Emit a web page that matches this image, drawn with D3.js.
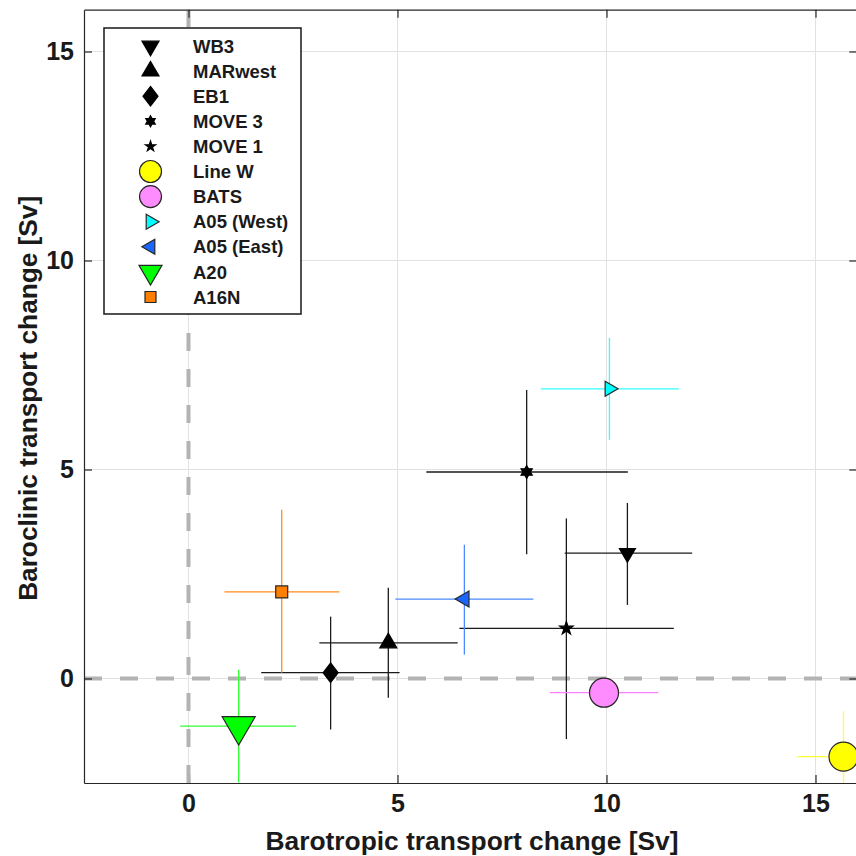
<!DOCTYPE html>
<html>
<head>
<meta charset="utf-8">
<script src="https://cdn.jsdelivr.net/npm/d3@7"></script>
<style>
  html, body { margin: 0; padding: 0; background: #fff; }
  svg { display: block; }
  text { font-family: "Liberation Sans", Arial, Helvetica, sans-serif; font-weight: bold; fill: #1a1a1a; }
</style>
</head>
<body>
<script>
// ---------------- data ----------------
const names = ["WB3", "MARwest", "EB1", "MOVE 3", "MOVE 1", "Line W", "BATS", "A05 (West)", "A05 (East)", "A20", "A16N"];
const xVal  = [10.5, 4.78, 3.40, 8.09, 9.04, 15.67, 9.94, 10.07, 6.60, 1.20, 2.23];
const yVal  = [3.00, 0.85, 0.14, 4.94, 1.20, -1.87, -0.34, 6.93, 1.90, -1.14, 2.07];
const xLo   = [9.00, 3.13, 1.74, 5.69, 6.48, 14.56, 8.64, 8.43, 4.95, -0.20, 0.86];
const xHi   = [12.05, 6.44, 5.05, 10.51, 11.61, 16.78, 11.24, 11.73, 8.25, 2.57, 3.61];
const yLo   = [1.76, -0.46, -1.22, 2.97, -1.45, -2.96, -0.34, 5.71, 0.57, -2.49, 0.14];
const yHi   = [4.20, 2.17, 1.48, 6.90, 3.83, -0.78, -0.34, 8.15, 3.20, 0.21, 4.04];
const xTicks = [0, 5, 10, 15];
const yTicks = [0, 5, 10, 15];
const xLabel = "Barotropic transport change [Sv]";
const yLabel = "Baroclinic transport change [Sv]";

// ---------------- styles ----------------
const shapes    = ["triDown", "triUp", "diamond", "hexagram", "pentagram", "circle", "circle", "triRight", "triLeft", "triDown", "square"];
const fills     = ["#000", "#000", "#000", "#000", "#000", "#ffff00", "#ff8cff", "#00ffff", "#1a66ff", "#00ff00", "#ff8000"];
const errColors = ["#1a1a1a", "#1a1a1a", "#1a1a1a", "#1a1a1a", "#1a1a1a", "#ffff33", "#ff80ff", "#33ffff", "#4d88ff", "#33ff33", "#ff8c1a"];
const plotSize  = [16, 17, 15, 13, 13, 29, 29, 15, 16, 33, 12];
const legSize   = [17, 17, 15, 11, 10, 22, 22, 15, 15, 23, 11];

const W = 856, H = 856;
const svg = d3.select("body").append("svg").attr("width", W).attr("height", H);

const x = d3.scaleLinear().domain([-2.5, 16]).range([84, 857.3]);
const y = d3.scaleLinear().domain([-2.5, 16]).range([783, 9.7]);
const [x0, x1] = x.range();
const [y0, y1] = y.range();

function markerPath(shape, s) {
  const p = d3.path();
  if (shape === "triDown" || shape === "triUp" || shape === "triLeft" || shape === "triRight") {
    const h = s * 0.86;
    let pts;
    if (shape === "triDown") pts = [[-s/2, -h/3], [s/2, -h/3], [0, 2*h/3]];
    if (shape === "triUp") pts = [[-s/2, h/3], [s/2, h/3], [0, -2*h/3]];
    if (shape === "triRight") pts = [[-h/3, -s/2], [-h/3, s/2], [2*h/3, 0]];
    if (shape === "triLeft") pts = [[h/3, -s/2], [h/3, s/2], [-2*h/3, 0]];
    p.moveTo(...pts[0]); p.lineTo(...pts[1]); p.lineTo(...pts[2]); p.closePath();
  } else if (shape === "diamond") {
    const hh = s * 0.65;
    p.moveTo(0, -hh); p.lineTo(s/2, 0); p.lineTo(0, hh); p.lineTo(-s/2, 0); p.closePath();
  } else if (shape === "square") {
    p.rect(-s/2, -s/2, s, s);
  } else if (shape === "circle") {
    p.moveTo(s/2, 0); p.arc(0, 0, s/2, 0, 2*Math.PI); p.closePath();
  } else if (shape === "pentagram" || shape === "hexagram") {
    const n = shape === "pentagram" ? 5 : 6;
    const R = s / 2 * (shape === "pentagram" ? 1.08 : 1.0);
    const r = shape === "pentagram" ? R * 0.382 : R / Math.sqrt(3);
    for (let i = 0; i < 2*n; i++) {
      const a = -Math.PI/2 + i * Math.PI / n;
      const rr = i % 2 === 0 ? R : r;
      if (i === 0) p.moveTo(rr*Math.cos(a), rr*Math.sin(a)); else p.lineTo(rr*Math.cos(a), rr*Math.sin(a));
    }
    p.closePath();
  }
  return p.toString();
}

// clip
svg.append("clipPath").attr("id", "plotclip").append("rect")
  .attr("x", x0).attr("y", y1).attr("width", x1 - x0).attr("height", y0 - y1);

// grid
const grid = svg.append("g");
grid.selectAll("line.gx").data(xTicks).join("line")
  .attr("x1", d => x(d)).attr("x2", d => x(d)).attr("y1", y0).attr("y2", y1)
  .attr("stroke", "#e2e2e2").attr("stroke-width", 1);
grid.selectAll("line.gy").data(yTicks).join("line")
  .attr("y1", d => y(d)).attr("y2", d => y(d)).attr("x1", x0).attr("x2", x1)
  .attr("stroke", "#e2e2e2").attr("stroke-width", 1);

// zero dashed lines
const zero = svg.append("g").attr("clip-path", "url(#plotclip)");
zero.append("line").attr("x1", x(0)).attr("x2", x(0)).attr("y1", y0).attr("y2", y1)
  .attr("stroke", "#b3b3b3").attr("stroke-width", 4).attr("stroke-dasharray", "18,18");
zero.append("line").attr("x1", x0).attr("x2", x1).attr("y1", y(0)).attr("y2", y(0))
  .attr("stroke", "#b3b3b3").attr("stroke-width", 4).attr("stroke-dasharray", "18,18");

// axes (box with inward ticks)
const axG = svg.append("g");
const bottomAxis = d3.axisBottom(x).tickValues(xTicks).tickSizeInner(-8).tickSizeOuter(0).tickPadding(18);
const leftAxis = d3.axisLeft(y).tickValues(yTicks).tickSizeInner(-8).tickSizeOuter(0).tickPadding(10);
const topAxis = d3.axisTop(x).tickValues(xTicks).tickSizeInner(-8).tickSizeOuter(0).tickFormat("");
const rightAxis = d3.axisRight(y).tickValues(yTicks).tickSizeInner(-8).tickSizeOuter(0).tickFormat("");

const gb = axG.append("g").attr("transform", `translate(0,${y0})`).call(bottomAxis);
const gl = axG.append("g").attr("transform", `translate(${x0},0)`).call(leftAxis);
const gt = axG.append("g").attr("transform", `translate(0,${y1})`).call(topAxis);
const gr = axG.append("g").attr("transform", `translate(${x1},0)`).call(rightAxis);
[gb, gl, gt, gr].forEach(g => {
  g.select(".domain").attr("stroke", "#262626").attr("stroke-width", 1.2);
  g.selectAll(".tick line").attr("stroke", "#262626").attr("stroke-width", 1.2);
  g.selectAll(".tick text").attr("font-size", 25).attr("font-weight", "bold")
    .attr("font-family", "Liberation Sans, Arial, sans-serif").attr("fill", "#1a1a1a");
});
gb.selectAll(".tick text").attr("dy", "0.45em");
gb.select(".tick line").attr("stroke", "#b3b3b3").attr("stroke-width", 3);

// axis labels
svg.append("text").attr("x", (x(0) + x(15)) / 2).attr("y", 850)
  .attr("text-anchor", "middle").attr("font-size", 25)
  .attr("textLength", 413).attr("lengthAdjust", "spacingAndGlyphs")
  .attr("transform", "translate(-30,0)")
  .text(xLabel);
svg.append("text").attr("transform", `translate(37,${(y(-2.5) + y(16)) / 2 + 2}) rotate(-90)`)
  .attr("text-anchor", "middle").attr("font-size", 25)
  .attr("textLength", 405).attr("lengthAdjust", "spacingAndGlyphs")
  .text(yLabel);

// data
const idx = d3.range(names.length);
const dataG = svg.append("g").attr("clip-path", "url(#plotclip)");
idx.forEach(i => {
  dataG.append("line").attr("x1", x(xLo[i])).attr("x2", x(xHi[i])).attr("y1", y(yVal[i])).attr("y2", y(yVal[i]))
    .attr("stroke", errColors[i]).attr("stroke-width", 1.3);
  if (yHi[i] !== yLo[i]) {
    dataG.append("line").attr("x1", x(xVal[i])).attr("x2", x(xVal[i])).attr("y1", y(yLo[i])).attr("y2", y(yHi[i]))
      .attr("stroke", errColors[i]).attr("stroke-width", 1.3);
  }
});
dataG.selectAll("path.mk").data(idx).join("path").attr("class", "mk")
  .attr("transform", i => `translate(${x(xVal[i])},${y(yVal[i])})`)
  .attr("d", i => markerPath(shapes[i], plotSize[i]))
  .attr("fill", i => fills[i])
  .attr("stroke", i => fills[i] === "#000" ? "#000" : "#262626")
  .attr("stroke-width", 1.2);

// legend
const leg = svg.append("g");
leg.append("rect").attr("x", 104).attr("y", 28).attr("width", 197).attr("height", 286)
  .attr("fill", "#fff").attr("stroke", "#262626").attr("stroke-width", 1.6);
const rowY = d3.scaleLinear().domain([0, names.length - 1]).range([46, 297]);
idx.forEach(i => {
  leg.append("path").attr("transform", `translate(150.5,${rowY(i)})`)
    .attr("d", markerPath(shapes[i], legSize[i]))
    .attr("fill", fills[i])
    .attr("stroke", fills[i] === "#000" ? "#000" : "#262626").attr("stroke-width", 1.2);
  leg.append("text").attr("x", 193).attr("y", rowY(i)).attr("dy", "0.36em")
    .attr("font-size", 18.5).text(names[i]);
});
</script>
</body>
</html>
